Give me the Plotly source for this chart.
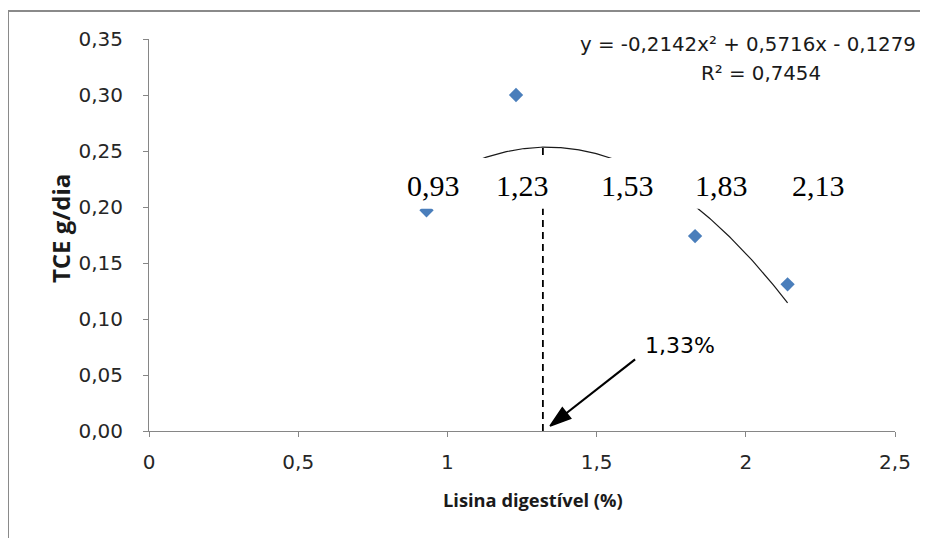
import numpy as np
import plotly.graph_objects as go

# ---- data ----
lys_x = [0.93, 1.23, 1.83, 2.14]
tce_y = [0.197, 0.300, 0.174, 0.131]
coef = [-0.2142, 0.5716, -0.1279]          # quadratic trendline a, b, c
r2 = 0.7454
optimum_x = 1.32                            # dashed marker line (labelled 1,33%)
optimum_label = "1,33%"
level_labels = ["0,93", "1,23", "1,53", "1,83", "2,13"]
level_label_x = [0.955, 1.250, 1.602, 1.920, 2.242]
level_label_y = 0.219
x_ticks = [0, 0.5, 1, 1.5, 2, 2.5]
x_tick_text = ["0", "0,5", "1", "1,5", "2", "2,5"]
y_ticks = [0, 0.05, 0.10, 0.15, 0.20, 0.25, 0.30, 0.35]
y_tick_text = ["0,00", "0,05", "0,10", "0,15", "0,20", "0,25", "0,30", "0,35"]
arrow_tail = [1.629, 0.064]
arrow_head = [1.344, 0.0045]
label_box_x = [0.84, 2.36]
label_box_y = [0.1985, 0.2438]

a, b, c = coef
def trend(x):
    return a * x * x + b * x + c

xs = np.linspace(min(lys_x), max(lys_x), 200)

fig = go.Figure()
# trendline
fig.add_trace(go.Scatter(x=xs, y=trend(xs), mode="lines",
                         line=dict(color="#1a1a1a", width=1.2), hoverinfo="skip"))
# dashed optimum line
fig.add_trace(go.Scatter(x=[optimum_x, optimum_x], y=[0, trend(optimum_x)], mode="lines",
                         line=dict(color="black", width=1.8, dash="7px,5px"), hoverinfo="skip"))
# data points
fig.add_trace(go.Scatter(x=lys_x, y=tce_y, mode="markers",
                         marker=dict(symbol="diamond", size=11, color="#4A7EBB",
                                     line=dict(width=0))))
# arrow
fig.add_trace(go.Scatter(x=[arrow_tail[0], arrow_head[0]], y=[arrow_tail[1], arrow_head[1]],
                         mode="lines+markers",
                         line=dict(color="black", width=2.2),
                         marker=dict(symbol=["circle", "arrow"], size=[0, 22], color="black",
                                     opacity=1, line=dict(color="black", width=1.5),
                                     angleref="previous", standoff=0),
                         hoverinfo="skip"))

shapes = [
    # white text box behind level labels (covers curve)
    dict(type="rect", xref="x", yref="y", x0=label_box_x[0], x1=label_box_x[1],
         y0=label_box_y[0], y1=label_box_y[1], fillcolor="white",
         line=dict(width=0), layer="above"),
    # outer chart border
    dict(type="rect", xref="paper", yref="paper", x0=-0.189, x1=1.2, y0=-0.5, y1=1.0714,
         line=dict(color="#8a8a8a", width=2), fillcolor="rgba(0,0,0,0)", layer="above"),
]

annotations = []
for t, lx in zip(level_labels, level_label_x):
    annotations.append(dict(x=lx, y=level_label_y, xref="x", yref="y", text=t, showarrow=False,
                            font=dict(family="Liberation Serif", size=30, color="black"),
                            xanchor="center", yanchor="middle"))
annotations.append(dict(x=1.78, y=0.0764, xref="x", yref="y", text=optimum_label, showarrow=False,
                        font=dict(family="DejaVu Sans", size=22, color="black"),
                        xanchor="center", yanchor="middle"))
annotations.append(dict(x=2.007, y=0.345, xref="x", yref="y",
                        text="y = -0,2142x² + 0,5716x - 0,1279", showarrow=False,
                        font=dict(family="DejaVu Sans", size=19.8, color="#1a1a1a"),
                        xanchor="center", yanchor="middle"))
annotations.append(dict(x=2.051, y=0.319, xref="x", yref="y",
                        text="R² = " + f"{r2:.4f}".replace(".", ","), showarrow=False,
                        font=dict(family="DejaVu Sans", size=19.8, color="#1a1a1a"),
                        xanchor="center", yanchor="middle"))
annotations.append(dict(x=0.5147, y=-0.176, xref="paper", yref="paper",
                        text="<b>Lisina digestível (%)</b>", showarrow=False,
                        font=dict(family="Open Sans", size=18.3, color="#1a1a1a"),
                        xanchor="center", yanchor="middle"))
annotations.append(dict(x=-0.1193, y=0.515, xref="paper", yref="paper",
                        text="<b>TCE g/dia</b>", showarrow=False, textangle=-90,
                        font=dict(family="Open Sans", size=24, color="#1a1a1a"),
                        xanchor="center", yanchor="middle"))

axis_common = dict(showgrid=False, zeroline=False, showline=True, linecolor="#868686",
                   linewidth=1, ticks="outside", ticklen=5, tickcolor="#868686",
                   tickfont=dict(family="DejaVu Sans", size=20, color="#262626"))

# page body has an 8px default margin, so the figure is shrunk/offset by 8px
fig.update_layout(
    width=920, height=530,
    margin=dict(l=141, r=33, t=31, b=107, pad=0),
    paper_bgcolor="white", plot_bgcolor="white",
    showlegend=False,
    xaxis=dict(range=[0, 2.5], tickvals=x_ticks, ticktext=x_tick_text,
               ticklabelstandoff=8, **axis_common),
    yaxis=dict(range=[0, 0.35], tickvals=y_ticks, ticktext=y_tick_text,
               ticklabelstandoff=16, **axis_common),
    shapes=shapes, annotations=annotations,
)

fig.write_html("out.html")
